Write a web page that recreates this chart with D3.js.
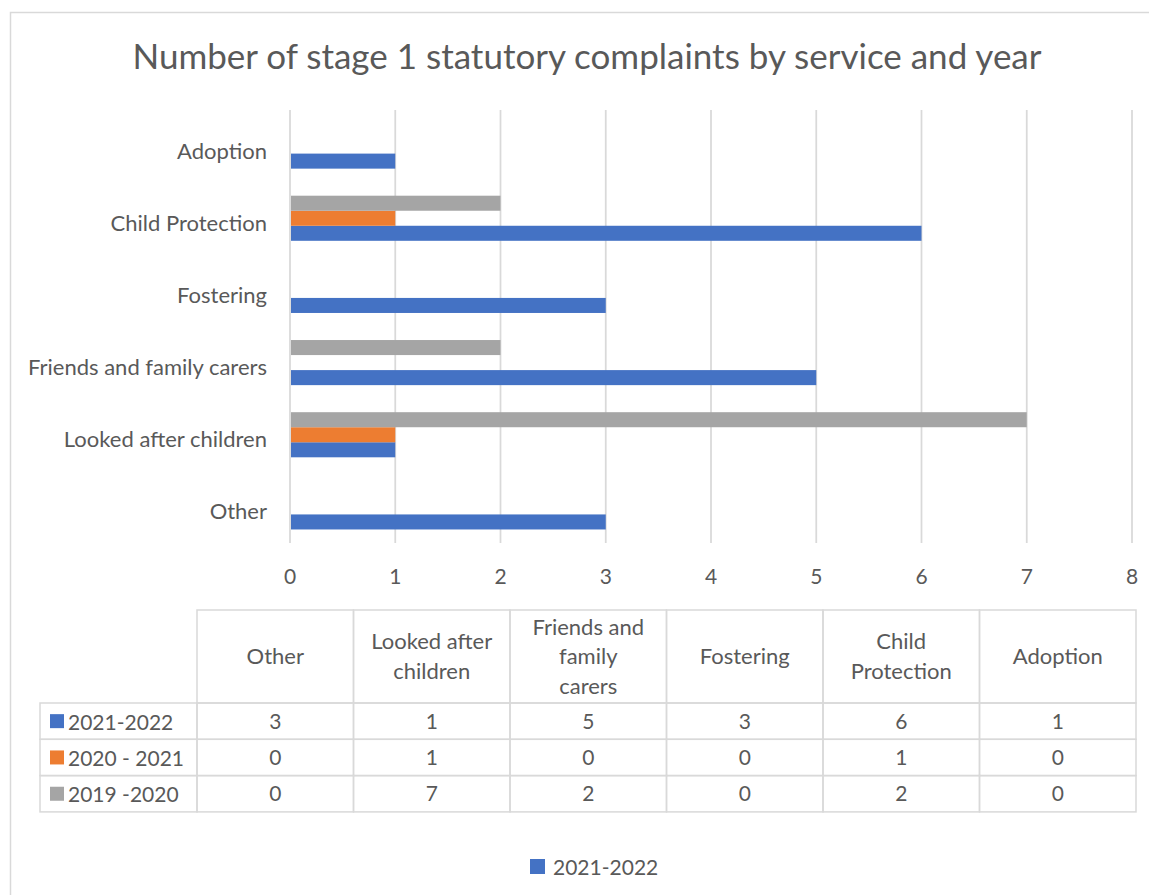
<!DOCTYPE html>
<html>
<head>
<meta charset="utf-8">
<script src="https://cdn.jsdelivr.net/npm/d3@7"></script>
<style>
  html, body { margin: 0; padding: 0; background: #fff; }
  svg text { font-family: Lato, "Open Sans", sans-serif; fill: #595959; }
</style>
</head>
<body>
<svg id="chart" width="1149" height="895"></svg>
<script>
// Services, top of the chart first
const services = ["Adoption", "Child Protection", "Fostering", "Friends and family carers", "Looked after children", "Other"];
// Column order used in the data table beneath the plot
const tableOrder = ["Other", "Looked after children", "Friends and family carers", "Fostering", "Child Protection", "Adoption"];
const tableHeaders = [["Other"], ["Looked after", "children"], ["Friends and", "family", "carers"], ["Fostering"], ["Child", "Protection"], ["Adoption"]];

// Series (years), in table row order
const seriesNames = ["2021-2022", "2020 - 2021", "2019 -2020"];
const seriesColors = ["#4472C4", "#ED7D31", "#A5A5A5"];

// Complaint counts, in tableOrder
const values2021_22 = [3, 1, 5, 3, 6, 1];
const values2020_21 = [0, 1, 0, 0, 1, 0];
const values2019_20 = [0, 7, 2, 0, 2, 0];

const xTicks = [0, 1, 2, 3, 4, 5, 6, 7, 8];

const seriesValues = [values2021_22, values2020_21, values2019_20];
const rows = [];
seriesNames.forEach((s, si) => {
  tableOrder.forEach((c, ci) => rows.push({ series: s, si, service: c, value: seriesValues[si][ci] }));
});

const svg = d3.select("#chart");
const gridColor = "#d9d9d9";
const wordSize = "22px";   // category names and table headers
const numSize = "21px";    // numbers and series names

// Outer chart frame
svg.append("rect")
  .attr("x", 10.5).attr("y", 12.5)
  .attr("width", 1200).attr("height", 1000)
  .attr("fill", "none").attr("stroke", gridColor).attr("stroke-width", 1.5);

// Title
svg.append("text")
  .attr("x", 587).attr("y", 69)
  .attr("text-anchor", "middle")
  .style("font-size", "35px")
  .text("Number of stage 1 statutory complaints by service and year");

// Scales
const x = d3.scaleLinear().domain([0, 8]).range([290, 1132]);
const y = d3.scaleBand().domain(services).range([110, 543]).padding(0);
// Within a service: oldest year on top, latest at the bottom
const yInner = d3.scaleBand().domain(["2019 -2020", "2020 - 2021", "2021-2022"])
  .range([0, y.bandwidth()]).paddingInner(0).paddingOuter(0.9);

// Vertical gridlines
svg.append("g").selectAll("line")
  .data(xTicks).join("line")
  .attr("x1", d => x(d)).attr("x2", d => x(d))
  .attr("y1", 110).attr("y2", 543)
  .attr("stroke", gridColor).attr("stroke-width", 1.75);

// Bars
svg.append("g").selectAll("rect")
  .data(rows.filter(r => r.value > 0)).join("rect")
  .attr("x", x(0) + 1)
  .attr("y", d => y(d.service) + yInner(d.series))
  .attr("width", d => x(d.value) - x(0) - 1)
  .attr("height", yInner.bandwidth())
  .attr("fill", d => seriesColors[d.si]);

// Category axis labels
svg.append("g").selectAll("text")
  .data(services).join("text")
  .attr("x", 267)
  .attr("y", d => y(d) + y.bandwidth() / 2 + 4)
  .attr("text-anchor", "end")
  .attr("dominant-baseline", "central")
  .style("font-size", wordSize)
  .text(d => d);

// Value axis tick labels
svg.append("g").selectAll("text")
  .data(xTicks).join("text")
  .attr("x", d => x(d))
  .attr("y", 575)
  .attr("text-anchor", "middle")
  .attr("dominant-baseline", "central")
  .style("font-size", numSize)
  .text(d => d);

// Data table
const col = d3.scaleBand().domain(tableOrder).range([197, 1136]);
const headerTop = 610, headerBottom = 703, rowH = 36.3;
const tableLeft = 40;
const tbl = svg.append("g").attr("stroke", gridColor).attr("stroke-width", 1.5);

// Header cells
tableOrder.forEach(c => {
  tbl.append("rect")
    .attr("x", col(c)).attr("y", headerTop)
    .attr("width", col.bandwidth()).attr("height", headerBottom - headerTop)
    .attr("fill", "none");
});
// Body cells
seriesNames.forEach((s, si) => {
  const ry = headerBottom + si * rowH;
  tbl.append("rect")
    .attr("x", tableLeft).attr("y", ry)
    .attr("width", col.range()[0] - tableLeft).attr("height", rowH)
    .attr("fill", "none");
  tableOrder.forEach(c => {
    tbl.append("rect")
      .attr("x", col(c)).attr("y", ry)
      .attr("width", col.bandwidth()).attr("height", rowH)
      .attr("fill", "none");
  });
});

// Header text
const headerMid = 655.5;
const lineH = 29.5;
tableHeaders.forEach((lines, ci) => {
  const cx = col(tableOrder[ci]) + col.bandwidth() / 2;
  lines.forEach((ln, li) => {
    svg.append("text")
      .attr("x", cx)
      .attr("y", headerMid + (li - (lines.length - 1) / 2) * lineH)
      .attr("text-anchor", "middle")
      .attr("dominant-baseline", "central")
      .style("font-size", wordSize)
      .text(ln);
  });
});

// Row legend keys and names
seriesNames.forEach((s, si) => {
  const cy = headerBottom + si * rowH + rowH / 2;
  svg.append("rect")
    .attr("x", 50).attr("y", cy - 7)
    .attr("width", 14).attr("height", 14)
    .attr("fill", seriesColors[si]);
  svg.append("text")
    .attr("x", 68).attr("y", cy)
    .attr("dominant-baseline", "central")
    .style("font-size", numSize)
    .text(s);
});

// Row values
svg.append("g").selectAll("text")
  .data(rows).join("text")
  .attr("x", d => col(d.service) + col.bandwidth() / 2)
  .attr("y", d => headerBottom + d.si * rowH + rowH / 2 - 1)
  .attr("text-anchor", "middle")
  .attr("dominant-baseline", "central")
  .style("font-size", numSize)
  .text(d => d.value);

// Bottom legend
svg.append("rect")
  .attr("x", 530).attr("y", 859)
  .attr("width", 15).attr("height", 15)
  .attr("fill", seriesColors[0]);
svg.append("text")
  .attr("x", 553).attr("y", 866)
  .attr("dominant-baseline", "central")
  .style("font-size", numSize)
  .text(seriesNames[0]);
</script>
</body>
</html>
